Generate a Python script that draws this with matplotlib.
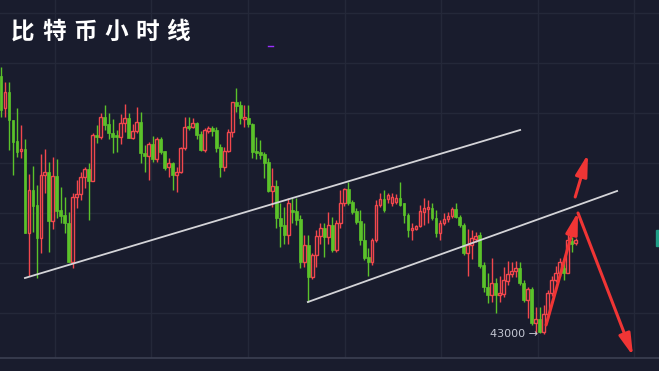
import matplotlib
matplotlib.use("Agg")
import matplotlib.pyplot as plt
from matplotlib.patches import Rectangle
from matplotlib.lines import Line2D

# hourly BTC candles (prices)
opens = [45570, 45250, 45410, 45130, 44920, 44820, 44840, 44000, 44430, 44280,
         43950, 44580, 44610, 44120, 44570, 44230, 44180, 44100, 43710, 44360,
         44390, 44560, 44640, 44520, 44980, 44960, 45160, 45090, 45000, 44970,
         44960, 45100, 45150, 44950, 45020, 45110, 44800, 44770, 44890, 44740,
         44940, 44820, 44660, 44700, 44580, 44610, 44850, 45070, 45060, 45100,
         44990, 44830, 45020, 45050, 45030, 44860, 44660, 44820, 45010, 45310,
         45280, 45140, 45150, 45090, 44820, 44810, 44790, 44710, 44420, 44470,
         44150, 44080, 43980, 44230, 44220, 44140, 43710, 43880, 43560, 43780,
         43970, 44050, 43960, 44080, 43830, 44100, 44300, 44440, 44310, 44220,
         44120, 43930, 43760, 43710, 43930, 44280, 44340, 44340, 44300, 44310,
         44350, 44300, 44180, 44030, 44040, 44070, 44210, 44240, 44250, 44150,
         44000, 44100, 44140, 44170, 44240, 44160, 44080, 43800, 43880, 43940,
         43980, 43680, 43460, 43380, 43500, 43380, 43390, 43520, 43590, 43620,
         43650, 43500, 43330, 43440, 43100, 43140, 43010, 43190, 43400, 43530,
         43600, 43650, 43600, 43920, 43900]
highs = [45660, 45510, 45510, 45130, 45250, 45080, 44940, 44590, 44670, 44480,
         44790, 44840, 44710, 44760, 44740, 44460, 44360, 44210, 44400, 44530,
         44610, 44660, 44700, 45000, 45080, 45200, 45280, 45200, 45140, 45030,
         45190, 45290, 45200, 45090, 45260, 45210, 44880, 44910, 44970, 44960,
         44960, 44820, 44750, 44710, 44660, 44860, 45160, 45160, 45150, 45110,
         45020, 45050, 45070, 45070, 45060, 44890, 44860, 45040, 45310, 45450,
         45320, 45280, 45280, 45100, 44960, 44930, 44810, 44750, 44650, 44530,
         44300, 44260, 44350, 44350, 44350, 44180, 43980, 43980, 43800, 44030,
         44100, 44100, 44210, 44160, 44130, 44430, 44450, 44510, 44330, 44250,
         44230, 44100, 43850, 43950, 44330, 44400, 44430, 44400, 44400, 44390,
         44510, 44300, 44200, 44100, 44080, 44280, 44350, 44330, 44300, 44230,
         44130, 44200, 44210, 44260, 44300, 44180, 44100, 44040, 44030, 44010,
         44010, 43710, 43600, 43750, 43550, 43570, 43660, 43720, 43710, 43720,
         43710, 43530, 43460, 43460, 43260, 43260, 43280, 43430, 43570, 43670,
         43750, 43750, 44030, 43960, 43950]
lows = [45160, 45160, 44830, 44580, 44760, 44750, 44000, 43570, 44010, 43550,
        43800, 44400, 43810, 44040, 44150, 44100, 44000, 43710, 43650, 44250,
        44330, 44450, 44130, 44520, 44900, 44940, 45030, 44940, 44800, 44810,
        44890, 45010, 44950, 44940, 45000, 44700, 44610, 44530, 44710, 44710,
        44790, 44630, 44560, 44430, 44410, 44600, 44830, 45030, 45050, 44940,
        44820, 44810, 45000, 44970, 44810, 44560, 44620, 44810, 44960, 45210,
        45090, 45060, 45060, 44750, 44740, 44740, 44550, 44410, 44260, 44050,
        43860, 43890, 43890, 44100, 44080, 43650, 43660, 43310, 43540, 43660,
        43890, 43760, 43890, 43810, 43810, 44050, 44270, 44280, 44190, 44090,
        43880, 43730, 43570, 43680, 43910, 44260, 44210, 44300, 44270, 44290,
        44270, 44100, 43960, 43930, 44030, 44060, 44080, 44100, 44130, 43960,
        43930, 44080, 44110, 44150, 44150, 44060, 43780, 43570, 43740, 43910,
        43650, 43410, 43300, 43310, 43200, 43310, 43360, 43480, 43560, 43560,
        43480, 43310, 43150, 43080, 42990, 43000, 42990, 43150, 43370, 43510,
        43570, 43530, 43600, 43810, 43880]
closes = [45230, 45410, 45130, 44910, 44810, 44840, 44000, 44430, 44270, 43950,
          44580, 44610, 44120, 44570, 44220, 44170, 44100, 43710, 44360, 44390,
          44560, 44640, 44520, 44980, 44960, 45160, 45080, 45000, 44960, 44960,
          45100, 45150, 44950, 45020, 45110, 44800, 44770, 44890, 44740, 44940,
          44810, 44650, 44700, 44580, 44610, 44850, 45060, 45050, 45100, 44980,
          44830, 45030, 45050, 45020, 44850, 44660, 44820, 45010, 45310, 45270,
          45150, 45160, 45090, 44810, 44800, 44780, 44700, 44420, 44470, 44150,
          44070, 43980, 44300, 44210, 44130, 43710, 43880, 43560, 43780, 43970,
          44050, 43960, 44080, 43830, 44100, 44300, 44440, 44300, 44210, 44110,
          43930, 43750, 43710, 43930, 44280, 44340, 44230, 44380, 44360, 44350,
          44280, 44180, 44030, 44050, 44070, 44220, 44250, 44260, 44150, 44000,
          44100, 44140, 44170, 44240, 44160, 44080, 43800, 43880, 43950, 43970,
          43670, 43460, 43380, 43500, 43380, 43400, 43530, 43590, 43620, 43650,
          43500, 43330, 43440, 43100, 43140, 43010, 43190, 43400, 43530, 43600,
          43710, 43600, 43930, 43890, 43930]

# drawn channel lines: (x0, p0, x1, p1) in candle index / price
upper_line = [6.0, 43550, 130.1, 45030]
lower_line = [76.9, 43310, 154.4, 44420]

# red arrows: (x_start, p_start, x_tip, p_tip)
arrows = [
    [136.6, 43080, 144.6, 44210],
    [143.9, 44360, 147.1, 44790],
    [144.6, 44200, 158.4, 42770],
]

title = "比特币小时线"
low_label = "43000 →"
low_label_pos = [122.6, 42990]

bg = "#191c2d"
grid_c = "#242839"
up_c = "#f2474d"
down_c = "#5bc22a"
arrow_c = "#f03535"

fig = plt.figure(figsize=(6.59, 3.71), dpi=100)
fig.patch.set_facecolor(bg)
ax = fig.add_axes([0, 13 / 371, 1, 358 / 371])
ax.set_facecolor(bg)
ax.set_xlim(-0.25, 164.9)
ax.set_ylim(42750, 46330)

# grid: one vertical per day, horizontal every 500
ax.set_xticks([13.5 + 24.2 * k for k in range(7)])
ax.set_yticks(range(43200, 46300, 500))
ax.grid(color=grid_c, lw=1)
ax.tick_params(length=0, labelbottom=False, labelleft=False)
for s in ["top", "left", "right"]:
    ax.spines[s].set_visible(False)
ax.spines["bottom"].set_color("#3b3f52")
ax.spines["bottom"].set_linewidth(1.2)

w = 0.7
for i, (o, h, l, c) in enumerate(zip(opens, highs, lows, closes)):
    up = c > o
    col = up_c if up else down_c
    ax.vlines(i, l, h, color=col, lw=1, zorder=2)
    lo_b, hi_b = min(o, c), max(o, c)
    if hi_b - lo_b < 15:
        hi_b = lo_b + 15
    if up:
        ax.add_patch(Rectangle((i - w / 2, lo_b), w, hi_b - lo_b, facecolor=bg,
                               edgecolor=col, lw=1, zorder=3))
    else:
        ax.add_patch(Rectangle((i - w / 2, lo_b), w, hi_b - lo_b, facecolor=col,
                               edgecolor=col, lw=0.5, zorder=3))

for x0, p0, x1, p1 in [upper_line, lower_line]:
    ax.plot([x0, x1], [p0, p1], color="#d4d4d8", lw=1.3, zorder=4)

for x0, p0, x1, p1 in arrows:
    ax.annotate("", xy=(x1, p1), xytext=(x0, p0),
                arrowprops=dict(arrowstyle="-|>,head_length=1.3,head_width=0.35",
                                color=arrow_c, lw=2.2, mutation_scale=10,
                                shrinkA=0, shrinkB=0),
                zorder=6, annotation_clip=False)

ax.text(low_label_pos[0], low_label_pos[1], low_label, color="#c3c6d2",
        fontsize=8, va="center", ha="left", zorder=5)

# title, one glyph at a time for the wide letter spacing
for k, ch in enumerate(title):
    fig.text((23 + k * 31) / 659, 1 - 32 / 371, ch, color="white",
             fontsize=17, fontweight="bold", family="Noto Sans CJK SC",
             ha="center", va="center")

fig.add_artist(Line2D([268 / 659, 273 / 659], [1 - 46 / 371, 1 - 46 / 371],
                      color="#9b30ff", lw=1))
fig.add_artist(Rectangle((656 / 659, 1 - 246 / 371), 3 / 659, 16 / 371,
                         color="#1f9e86", transform=fig.transFigure))

fig.savefig("out.png", dpi=100, facecolor=bg)
